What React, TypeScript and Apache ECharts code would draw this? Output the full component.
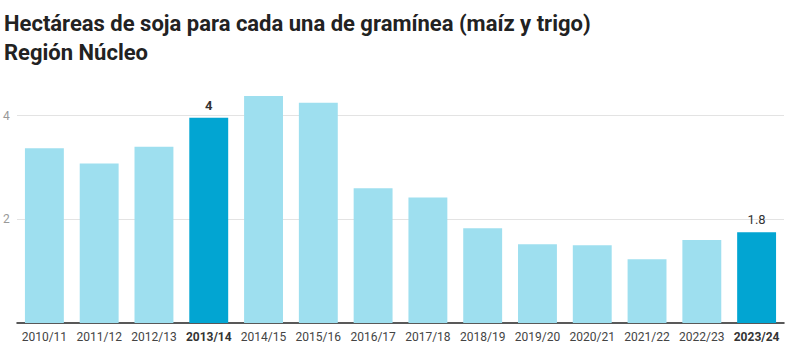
import React, { useEffect, useRef } from "react";
import * as echarts from "echarts";

const categories = ["2010/11", "2011/12", "2012/13", "2013/14", "2014/15", "2015/16", "2016/17", "2017/18", "2018/19", "2019/20", "2020/21", "2021/22", "2022/23", "2023/24"];
const values = [3.37, 3.08, 3.4, 3.96, 4.38, 4.25, 2.6, 2.42, 1.83, 1.52, 1.5, 1.23, 1.6, 1.75];
const highlighted = ["2013/14", "2023/24"];
const gridValues = [2, 4];
const titleText = "Hectáreas de soja para cada una de gramínea (maíz y trigo)\nRegión Núcleo";

const LIGHT = "#9edfef";
const DARK = "#02a5d2";

export default function App() {
  const ref = useRef<HTMLDivElement>(null);
  useEffect(() => {
    const chart = echarts.init(ref.current!, undefined, { renderer: "svg" });
    chart.setOption({
      animation: false,
      textStyle: { fontFamily: "Roboto" },
      title: {
        text: titleText,
        left: -1,
        top: 4,
        textStyle: { fontFamily: "Roboto", fontSize: 22, fontWeight: "bold", color: "#222", lineHeight: 29 },
      },
      grid: { left: 17, right: 21, top: 95, bottom: 38, containLabel: false },
      xAxis: {
        type: "category",
        data: categories,
        axisLine: { lineStyle: { color: "#222", width: 1.5 } },
        axisTick: { show: false },
        axisLabel: {
          interval: 0,
          margin: 8,
          fontSize: 12,
          color: "#444",
          formatter: (v: string) => (highlighted.includes(v) ? `{b|${v}}` : v),
          rich: { b: { fontWeight: "bold", color: "#333", fontSize: 12, fontFamily: "Roboto" } },
        },
      },
      yAxis: {
        type: "value",
        min: 0,
        max: 4.4,
        interval: 2,
        splitLine: { show: false },
        axisLine: { show: false },
        axisTick: { show: false },
        axisLabel: {
          inside: true,
          margin: -14,
          fontSize: 12,
          color: "#999",
          formatter: (v: number) => (gridValues.includes(v) ? String(v) : ""),
        },
      },
      series: [
        {
          type: "bar",
          barCategoryGap: "29%",
          data: categories.map((c, i) => ({
            value: values[i],
            itemStyle: { color: highlighted.includes(c) ? DARK : LIGHT },
            label: {
              show: highlighted.includes(c),
              position: "top",
              distance: 6,
              fontSize: 13,
              fontWeight: i === 3 ? "bold" : "normal",
              color: "#333",
              formatter: (p: any) => String(Number(p.value.toFixed(1))),
            },
          })),
          markLine: {
            silent: true,
            symbol: "none",
            label: { show: false },
            lineStyle: { color: "#e3e3e3", type: "solid", width: 1 },
            data: gridValues.map((g) => ({ yAxis: g })),
            z: 0,
          },
          z: 2,
        },
      ],
    });
    return () => chart.dispose();
  }, []);
  return <div ref={ref} style={{ position: "fixed", left: 0, top: 0, width: 805, height: 361, background: "#fff" }} />;
}
